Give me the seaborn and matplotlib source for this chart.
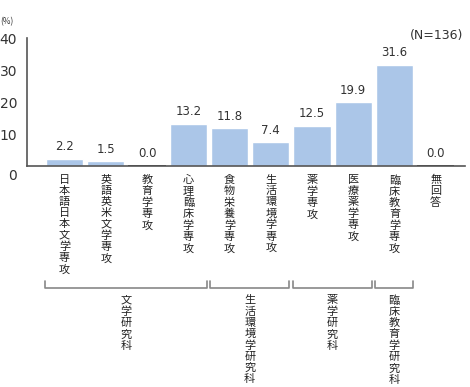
import numpy as np
import pandas as pd
import matplotlib.pyplot as plt
import seaborn as sns
from matplotlib.transforms import blended_transform_factory

# 専攻ごとの割合 (%)
majors = ["日本語日本文学専攻", "英語英米文学専攻", "教育学専攻", "心理臨床学専攻",
          "食物栄養学専攻", "生活環境学専攻", "薬学専攻", "医療薬学専攻",
          "臨床教育学専攻", "無回答"]
pct = [2.2, 1.5, 0.0, 13.2, 11.8, 7.4, 12.5, 19.9, 31.6, 0.0]

# 研究科のまとまり (最初と最後の専攻の番号)
schools = ["文学研究科", "生活環境学研究科", "薬学研究科", "臨床教育学研究科"]
school_first = [0, 4, 6, 8]
school_last = [3, 5, 7, 8]

yticks = [10, 20, 30, 40]
n_label = "(N=136)"

sns.set_style("white")
plt.rcParams['font.family'] = ['Noto Sans CJK JP', 'DejaVu Sans']
num_font = "DejaVu Sans"

df = pd.DataFrame({"major": majors, "pct": pct})

fig = plt.figure(figsize=(4.7, 3.87), dpi=100)
ax = fig.add_axes([0.0574, 0.571, 0.932, 0.3307])

sns.barplot(data=df, x="major", y="pct", color="#abc6e8", saturation=1,
            width=0.9, ax=ax)

# 0% の棒は黒い線で見せる
for p in ax.patches:
    if p.get_height() == 0:
        p.set_edgecolor("#222222")
        p.set_linewidth(1.2)

ax.bar_label(ax.containers[0], fmt="%.1f", padding=4, fontsize=8.5,
             color="#333333", family=num_font)

ax.set_xlim(-0.91, 9.71)
ax.set_ylim(0, 40)
ax.set_yticks(yticks)
ax.set_yticklabels([str(t) for t in yticks], fontsize=10, color="#333333",
                   family=num_font)
ax.tick_params(axis="y", direction="in", length=7, width=1, color="#555555",
               pad=7)
ax.set_xticks([])
ax.set_xlabel("")
ax.set_ylabel("")
for s in ["top", "right"]:
    ax.spines[s].set_visible(False)
for s in ["left", "bottom"]:
    ax.spines[s].set_color("#555555")
    ax.spines[s].set_linewidth(1.2)

# 0 のラベルは軸より少し下
ax.annotate("0", xy=(0, 0), xycoords=("axes fraction", "data"),
            xytext=(-7, -7), textcoords="offset points",
            ha="right", va="center", fontsize=10, color="#333333",
            family=num_font)

trans = blended_transform_factory(ax.transData, ax.transAxes)

# 縦書きの専攻名
for i, m in enumerate(majors):
    ax.text(i, -0.07, "\n".join(m), transform=trans, ha="center", va="top",
            fontsize=8, linespacing=1.14, color="#222222")

# 研究科の括弧と名前
for name, a, b in zip(schools, school_first, school_last):
    x0, x1 = a - 0.47, b + 0.45
    ax.plot([x0, x0, x1, x1], [-0.898, -0.953, -0.953, -0.898],
            transform=trans, color="#888888", lw=1.2, clip_on=False)
    ax.text((x0 + x1) / 2, -1.01, "\n".join(name), transform=trans,
            ha="center", va="top", fontsize=8, linespacing=1.14,
            color="#222222")

fig.text(0.0, 0.945, "(%)", fontsize=6, color="#333333", va="center")
fig.text(0.985, 0.908, n_label, fontsize=9, color="#333333",
         ha="right", va="center", family=num_font)

fig.savefig("out.png", dpi=100)
